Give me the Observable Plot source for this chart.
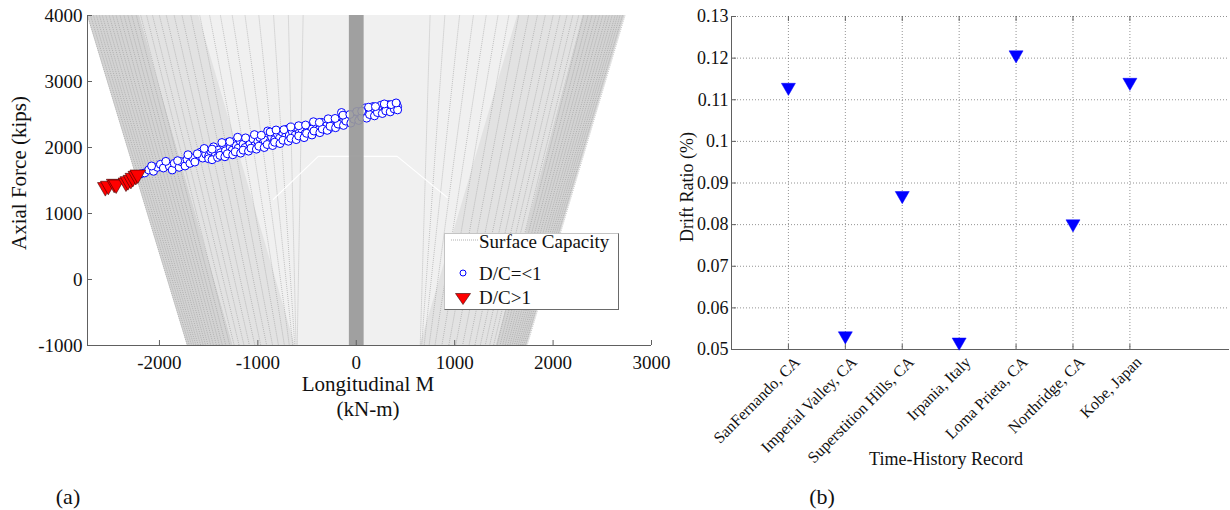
<!DOCTYPE html>
<html><head><meta charset="utf-8">
<script src="https://cdn.jsdelivr.net/npm/d3@7"></script>
<script src="https://cdn.jsdelivr.net/npm/@observablehq/plot@0.6"></script>
<style>
body{margin:0;background:#fff;}
#wrap{position:relative;width:1230px;height:510px;font-family:"Liberation Serif","Times New Roman",serif;color:#111;overflow:hidden;}
#wrap > svg{position:absolute;left:0;top:0;}
.lbl{position:absolute;white-space:nowrap;line-height:1;}
</style></head><body><div id="wrap"></div>
<script>
// ---------- Panel (a) data ----------
const xTicksA = [-2000, -1000, 0, 1000, 2000, 3000];
const yTicksA = [-1000, 0, 1000, 2000, 3000, 4000];
const xDomainA = [-2731, 3000];
const yDomainA = [-1000, 4000];
// capacity surface meridians: M at P = 4000 (top) and at P = -1000 (bottom)
const capTopP = 4000, capBotP = -1000;
const capLeftTop = [-2731,-2700,-2670,-2640,-2610,-2580,-2545,-2510,-2475,-2440,-2400,-2360,-2320,-2280,-2235,-2190,-2130,-2070,-2000,-1930,-1850,-1770,-1680,-1590,-1490,-1380,-1260,-1130,-990,-840,-690,-540];
const capLeftBot = [-1716,-1695,-1672,-1650,-1628,-1605,-1580,-1555,-1530,-1505,-1478,-1450,-1420,-1390,-1360,-1325,-1285,-1240,-1190,-1140,-1085,-1030,-970,-910,-850,-790,-730,-680,-645,-625,-612,-600];
const capRightTop = [2731,2705,2680,2655,2630,2600,2570,2540,2505,2470,2435,2395,2355,2310,2260,2200,2140,2070,2000,1920,1840,1750,1650,1550,1440,1320,1190,1050,900,750];
const capRightBot = [1736,1718,1700,1682,1664,1645,1625,1605,1583,1560,1537,1512,1487,1460,1430,1395,1355,1310,1260,1205,1145,1080,1010,940,870,800,740,690,665,650];
// shaded bands of the surface (left edge / right edge at top and bottom)
const bandName = ["env","leftDense","leftMid","rightDense","rightMid"];
const bandTopL = [-2731,-2731,-2200, 2300, 1640];
const bandTopR = [ 2731,-2200,-1600, 2731, 2300];
const bandBotL = [-1716,-1716,-1250, 1420,  650];
const bandBotR = [ 1736,-1250, -620, 1736, 1420];
const bandFill = ["#f0f0f0","#d3d3d3","#e2e2e2","#d3d3d3","#e2e2e2"];
// central column of the surface
const barM = [-70, 80];
// white seam on the surface
const seamM = [-843, -386, 416, 924];
const seamP = [1214, 1866, 1866, 1244];
// D/C <= 1 points
const okM = [-2190,-2150,-2110,-2060,-2020,-1990,-1960,-1900,-1870,-1850,-1800,-1780,-1740,-1720,-1690,-1660,-1640,-1600,-1580,-1560,-1530,-1500,-1480,-1450,-1430,-1400,-1380,-1350,-1330,-1300,-1280,-1260,-1240,-1220,-1200,-1180,-1150,-1130,-1100,-1080,-1050,-1030,-1000,-980,-950,-930,-900,-880,-860,-830,-800,-780,-750,-720,-700,-680,-650,-620,-600,-580,-550,-520,-500,-480,-450,-420,-400,-380,-350,-330,-300,-280,-260,-240,-220,-200,-180,-160,-150,-130,-110,-90,-70,-50,-30,-10,10,30,50,70,90,110,130,150,170,190,210,230,250,270,290,310,330,350,370,390,410,420,
  -1500,-1465,-1410,-1385,-1335,-1310,-1255,-1230,-1175,-1150,-1095,-1070,-1015,-990,-935,-905,-850,-830,-775,-745,-690,-665,-610,-585,-530,-505,-450,-430,-370,-345,-295,-265,-210,-185,-130,-105,-55,-25,25,55,105,135,185,215,265,300,345,385,420,
  -2080,-1935,-1815,-1710,-1615,-1545,-1465,-1365,-1285,-1205,-1125,-1035,-965,-875,-815,-735,-665,-585,-515,-435,-375,-285,-215,-135,-65,5,55,125,195,285,355,405];
const okP = [1600,1615,1660,1640,1700,1745,1690,1720,1660,1760,1700,1785,1720,1820,1760,1840,1780,1880,1930,1840,1900,1870,1950,2010,1900,1960,1920,2040,1950,2080,2000,1960,2090,2030,1990,2100,2050,2000,2120,2060,2130,2030,2090,2150,2060,2110,2250,2080,2160,2120,2200,2140,2230,2160,2280,2190,2240,2190,2300,2220,2260,2210,2310,2250,2280,2240,2330,2270,2380,2290,2330,2280,2360,2320,2390,2340,2420,2370,2530,2400,2450,2390,2470,2420,2500,2440,2480,2540,2470,2510,2600,2540,2580,2510,2620,2560,2600,2540,2640,2580,2620,2570,2650,2600,2640,2590,2660,2620,
  1830,1815,1850,1880,1860,1905,1890,1935,1915,1960,1945,1990,1975,2020,2000,2045,2030,2080,2060,2110,2095,2140,2120,2175,2150,2215,2190,2250,2225,2280,2260,2320,2300,2355,2335,2400,2370,2430,2410,2460,2445,2500,2480,2530,2515,2555,2540,2585,2570,
  1720,1790,1800,1890,1905,1985,1975,2075,2090,2155,2145,2195,2185,2235,2265,2270,2310,2330,2340,2390,2380,2435,2440,2490,2500,2545,2550,2610,2620,2660,2650,2675];
// D/C > 1 points
const failM = [-2550,-2520,-2460,-2440,-2340,-2320,-2290,-2270,-2240,-2220];
const failP = [1400,1420,1450,1440,1470,1490,1510,1540,1570,1590];

// ---------- Panel (b) data ----------
const records = ["SanFernando, CA","Imperial Valley, CA","Superstition Hills, CA","Irpania, Italy","Loma Prieta, CA","Northridge, CA","Kobe, Japan"];
const driftRatio = [0.1125, 0.0528, 0.0865, 0.0513, 0.1203, 0.0797, 0.1137];
const yTicksB = [0.05, 0.06, 0.07, 0.08, 0.09, 0.1, 0.11, 0.12, 0.13];
const xDomainB = [0, 8.75];
const yDomainB = [0.05, 0.13];

// ---------- build ----------
const W = 1230, H = 510;
const wrap = document.getElementById("wrap");
const FONT = '"Liberation Serif","Times New Roman",serif';
const axisCol = "#606060";

const bands = bandName.flatMap((b, i) => [
  {band: b, P: capTopP, l: bandTopL[i], r: bandTopR[i], fill: bandFill[i]},
  {band: b, P: capBotP, l: bandBotL[i], r: bandBotR[i], fill: bandFill[i]}
]);
const meridians = [
  ...capLeftTop.map((t, i) => ({t, b: capLeftBot[i]})),
  ...capRightTop.map((t, i) => ({t, b: capRightBot[i]}))
];
const barRows = [{m1: barM[0], m2: barM[1], p1: yDomainA[0], p2: yDomainA[1]}];
const seam = seamM.map((m, i) => ({m, p: seamP[i]}));
const ok = okM.map((m, i) => ({m, p: okP[i]}));
const fail = failM.map((m, i) => ({m, p: failP[i]}));

const A = {left: 87, right: 651, top: 15, bottom: 345};
const plotA = Plot.plot({
  width: W, height: H,
  marginLeft: A.left, marginRight: W - A.right, marginTop: A.top, marginBottom: H - A.bottom,
  style: {background: "transparent", fontFamily: FONT, color: "#111", overflow: "visible"},
  x: {domain: xDomainA}, y: {domain: yDomainA},
  marks: [
    Plot.areaX(bands, {y: "P", x1: "l", x2: "r", z: "band", fill: "fill"}),
    Plot.link(meridians, {x1: "t", y1: () => capTopP, x2: "b", y2: () => capBotP, stroke: "#8a8a8a", strokeWidth: 0.6, strokeDasharray: "1,1", strokeOpacity: 0.8}),
    Plot.line(seam, {x: "m", y: "p", stroke: "#ffffff", strokeWidth: 1.2}),
    Plot.dot(ok, {x: "m", y: "p", r: 4, stroke: "#0000ff", fill: "#ffffff", strokeWidth: 1}),
    Plot.rect(barRows, {x1: "m1", x2: "m2", y1: "p1", y2: "p2", fill: "#999999", fillOpacity: 0.92}),
    Plot.dot(fail, {x: "m", y: "p", symbol: "triangle", rotate: 180, r: 5.8, fill: "#ff0000", stroke: "#3a0000", strokeWidth: 0.6}),
    Plot.ruleX([xDomainA[0]], {stroke: axisCol}),
    Plot.ruleY([yDomainA[0]], {stroke: axisCol}),
    Plot.tickX(xTicksA, {x: d => d, insetTop: (A.bottom - A.top) - 5, stroke: axisCol}),
    Plot.tickY(yTicksA, {y: d => d, insetRight: (A.right - A.left) - 5, stroke: axisCol}),
    Plot.axisX({ticks: xTicksA, tickSize: 0, tickPadding: 10, tickFormat: d => String(d), fontSize: 19, label: null}),
    Plot.axisY({ticks: yTicksA, tickSize: 0, tickPadding: 5, tickFormat: d => String(d), fontSize: 19, label: null})
  ]
});
wrap.appendChild(plotA);

const B = {left: 731, right: 1229, top: 16, bottom: 349};
const recIdx = records.map((r, i) => i + 1);
const drift = driftRatio.map((v, i) => ({i: i + 1, v}));
const plotB = Plot.plot({
  width: W, height: H,
  marginLeft: B.left, marginRight: W - B.right, marginTop: B.top, marginBottom: H - B.bottom,
  style: {background: "transparent", fontFamily: FONT, color: "#111", overflow: "visible"},
  x: {domain: xDomainB}, y: {domain: yDomainB},
  marks: [
    Plot.gridX(recIdx, {stroke: "#777", strokeOpacity: 1, strokeWidth: 0.8, strokeDasharray: "1,2"}),
    Plot.gridY(yTicksB, {stroke: "#777", strokeOpacity: 1, strokeWidth: 0.8, strokeDasharray: "1,2"}),
    Plot.ruleX([xDomainB[0]], {stroke: axisCol}),
    Plot.ruleY([yDomainB[0]], {stroke: axisCol}),
    Plot.tickX(recIdx, {x: d => d, insetTop: (B.bottom - B.top) - 5, stroke: axisCol}),
    Plot.tickX(recIdx, {x: d => d, insetBottom: (B.bottom - B.top) - 5, stroke: axisCol}),
    Plot.tickY(yTicksB, {y: d => d, insetRight: (B.right - B.left) - 5, stroke: axisCol}),
    Plot.axisY({ticks: yTicksB, tickSize: 0, tickPadding: 3, tickFormat: d => String(d), fontSize: 18, label: null}),
    Plot.axisX({ticks: recIdx, tickSize: 0, tickPadding: 6, tickRotate: -45, dx: 9, dy: 4, tickFormat: i => records[i - 1], fontSize: 16, label: null}),
    Plot.dot(drift, {x: "i", y: "v", symbol: "triangle", rotate: 180, r: 5.2, dy: -2, fill: "#0000ff", stroke: "#0000ff", strokeWidth: 0.5})
  ]
});
wrap.appendChild(plotB);

// ---------- text labels ----------
function label(text, cx, cy, size, rot) {
  const d = document.createElement("div");
  d.className = "lbl";
  d.textContent = text;
  d.style.left = cx + "px";
  d.style.top = cy + "px";
  d.style.fontSize = size + "px";
  d.style.transform = "translate(-50%,-50%)" + (rot ? ` rotate(${rot}deg)` : "");
  wrap.appendChild(d);
}
label("Axial Force (kips)", 19, 173, 21, -90);
label("Longitudinal M", 368, 384, 21);
label("(kN-m)", 368, 409, 21);
label("Drift Ratio (%)", 687, 187, 18, -90);
label("Time-History Record", 946, 459, 18);
label("(a)", 68, 497, 22);
label("(b)", 822, 497, 22);

// ---------- legend for panel (a) ----------
const leg = document.createElement("div");
leg.style.cssText = "position:absolute;left:444px;top:233px;width:173px;height:75px;background:#fff;border-top:1px solid #c4c4c4;border-left:1px solid #c4c4c4;border-right:1px solid #6a6a6a;border-bottom:1px solid #6a6a6a;";
leg.innerHTML = `<svg width="173" height="75" style="overflow:visible;font-family:${FONT.replace(/"/g, "'")};font-size:19px;fill:#111">
<line x1="6" x2="33" y1="6" y2="6" stroke="#b0b0b0" stroke-dasharray="1,1"/>
<text x="34" y="14">Surface Capacity</text>
<circle cx="18" cy="39" r="3" stroke="#0000ff" fill="#fff" stroke-width="1"/>
<text x="34" y="46">D/C=&lt;1</text>
<path d="M10.5,59.5 L25.5,59.5 L18,70.5 Z" fill="#ff0000" stroke="#3a0000" stroke-width="0.6"/>
<text x="34" y="70">D/C&gt;1</text>
</svg>`;
wrap.appendChild(leg);
</script>
</body></html>
